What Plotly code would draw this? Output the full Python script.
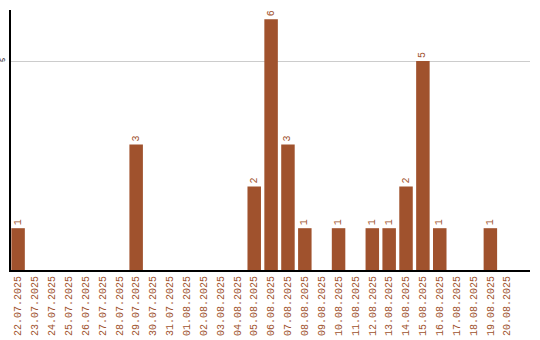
import plotly.graph_objects as go

dates = ["22.07.2025","23.07.2025","24.07.2025","25.07.2025","26.07.2025","27.07.2025",
         "28.07.2025","29.07.2025","30.07.2025","31.07.2025","01.08.2025","02.08.2025",
         "03.08.2025","04.08.2025","05.08.2025","06.08.2025","07.08.2025","08.08.2025",
         "09.08.2025","10.08.2025","11.08.2025","12.08.2025","13.08.2025","14.08.2025",
         "15.08.2025","16.08.2025","17.08.2025","18.08.2025","19.08.2025","20.08.2025"]
counts = [1,0,0,0,0,0,0,3,0,0,0,0,0,0,2,6,3,1,0,1,0,1,1,2,5,1,0,0,1,0]

color = "#A0522D"
labels = [str(v) if v > 0 else "" for v in counts]

fig = go.Figure(go.Bar(
    x=list(range(len(dates))), y=counts, marker_color=color, marker_line_width=0,
    text=labels, textposition="outside", textangle=-90, cliponaxis=False,
    constraintext="none",
    textfont=dict(family="Liberation Mono", size=10, color=color),
    width=0.8,
))
fig.update_layout(
    width=540, height=340, margin=dict(l=11, r=10, t=10, b=70),
    plot_bgcolor="white", paper_bgcolor="white", showlegend=False,
    xaxis=dict(tickmode="array", tickvals=list(range(len(dates))), ticktext=dates,
               tickangle=-90, range=[-0.42, 30.35], showgrid=False, automargin=False,
               showline=True, linecolor="black", linewidth=2, ticks="",
               tickfont=dict(family="Liberation Mono", size=10, color=color)),
    yaxis=dict(range=[0, 6.22], tickvals=[5], ticktext=["5"], tickangle=-90,
               showgrid=True, gridcolor="#cccccc", gridwidth=1, zeroline=False,
               automargin=False, ticklabelstandoff=1,
               showline=True, linecolor="black", linewidth=2, ticks="",
               tickfont=dict(family="Liberation Mono", size=7, color="black")),
)
fig.write_html("out.html")
